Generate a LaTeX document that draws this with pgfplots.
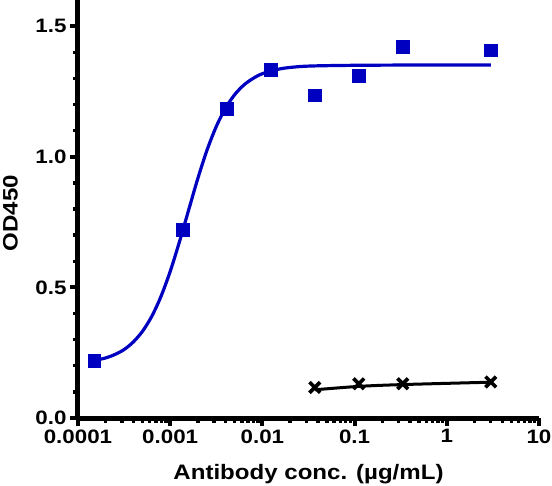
\documentclass[border=0pt]{standalone}
\usepackage{fontspec}
\setmainfont{Liberation Sans}[FakeStretch=1.15]
\usepackage{pgfplots}
\pgfplotsset{compat=1.18}
\definecolor{fitblue}{RGB}{0,0,192}

\begin{document}
\begin{tikzpicture}
\begin{axis}[
  scale only axis, width=461bp, height=418bp,
  xmode=log, xmin=1e-4, xmax=10, ymin=0, ymax=1.6,
  axis x line*=bottom, axis y line*=left,
  x axis line style={-, line width=5bp, black},
  y axis line style={-, line width=5bp, black},
  tick align=outside, major tick length=8bp, minor tick length=5bp,
  every major tick/.append style={line width=4bp, black},
  every minor tick/.append style={line width=3.4bp, black},
  xtick={1e-4,1e-3,1e-2,1e-1,1,10},
  xticklabels={0.0001,0.001,0.01,0.1,1,10},
  ytick={0,0.5,1,1.5}, minor y tick num=4,
  yticklabel={\pgfmathprintnumber[fixed,fixed zerofill,precision=1,assume math mode=true]{\tick}},
  ticklabel style={font=\bfseries\fontsize{19.5}{20}\selectfont},
  xlabel={Antibody conc. (µg/mL)},
  xlabel style={font=\bfseries\fontsize{21}{22}\selectfont, at={(axis description cs:0.5,-0.1467)}, anchor=base, inner sep=0pt},
  ylabel={OD450},
  ylabel style={font=\bfseries\fontsize{21}{22}\selectfont, at={(axis description cs:-0.163,0.49)}, anchor=north, inner sep=0pt},
  clip=false,
]
% fitted curves
\addplot[fitblue, line width=3.2bp, smooth] coordinates {
  (0.000151,0.220) (0.0002,0.230) (0.000251,0.243) (0.000316,0.262)
  (0.000398,0.291) (0.000501,0.332) (0.000631,0.389) (0.000794,0.465)
  (0.001,0.561) (0.001259,0.674) (0.001585,0.796) (0.001995,0.917)
  (0.002512,1.026) (0.003162,1.116) (0.003981,1.186) (0.005012,1.238)
  (0.00631,1.275) (0.007943,1.300) (0.01,1.318) (0.01585,1.337)
  (0.02512,1.345) (0.0398,1.348) (0.1,1.350) (0.4,1.351) (3,1.351)};
\addplot[black, line width=3bp, smooth] coordinates {
  (0.037,0.108) (0.111,0.121) (0.333,0.128) (3,0.137)};
% data points
\addplot[only marks, mark=square*, mark size=6.3bp, fitblue] coordinates {
  (0.00015,0.219) (0.00137,0.720) (0.00412,1.183) (0.0123,1.333)
  (0.037,1.235) (0.111,1.311) (0.333,1.421) (3,1.408)};
\addplot[black, only marks, mark=x, mark size=7.5bp, line width=3.6bp] coordinates {
  (0.037,0.117) (0.111,0.131) (0.333,0.131) (3,0.138)};
\end{axis}
\pgfresetboundingbox
\path (-78bp,-68bp) rectangle (474bp,418bp);
\end{tikzpicture}
\end{document}
